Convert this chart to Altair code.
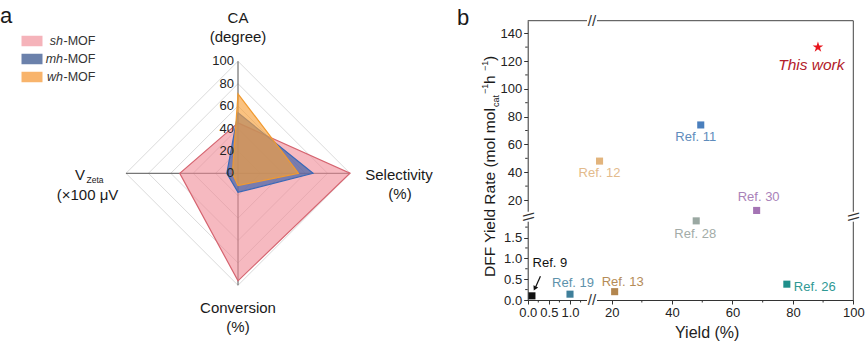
import altair as alt
import pandas as pd

# ---------------- data: panel a (radar) ----------------
axes_names = ["CA", "Selectivity", "Conversion", "VZeta"]
series_names = ["sh", "mh", "wh"]
sh_values = [45, 100, 96, 52]
mh_values = [54, 67, 17, 10]
wh_values = [71, 54, 11, 5]
grid_levels = [20, 40, 60, 80, 100]
radar_ticks = [0, 20, 40, 60, 80, 100]

# ---------------- data: panel b (scatter) ----------------
ref_names = ["Ref. 9", "Ref. 19", "Ref. 13", "Ref. 28", "Ref. 26", "Ref. 30", "Ref. 12", "Ref. 11"]
ref_yield = [0.1, 1.0, 21, 48, 78, 68, 16, 49.5]
ref_rate = [0.1, 0.14, 0.2, 1.9, 0.38, 12.5, 48, 74]
this_name = ["This work"]
this_yield = [88.3]
this_rate = [130]
x_ticks = [0, 0.5, 1.0, 20, 40, 60, 80, 100]
y_ticks = [0, 0.5, 1.0, 1.5, 20, 40, 60, 80, 100, 120, 140]
x_minor = [0.25, 0.75, 1.25, 30, 50, 70, 90]
y_minor = [0.25, 0.75, 1.25, 1.75, 30, 50, 70, 90, 110, 130]

# ---------------- styles ----------------
FONT = "Liberation Sans"
STAR = ("M0,-1L0.2245,-0.309L0.951,-0.309L0.3633,0.118L0.588,0.809L0,0.382"
        "L-0.588,0.809L-0.3633,0.118L-0.951,-0.309L-0.2245,-0.309Z")
ref_colors = ["#111111", "#3f7f9a", "#b3864e", "#9aa8a2", "#1f8f8b", "#a474b4", "#e2b47c", "#4a7fbd"]
label_colors = ["#111111", "#5d92ab", "#b58c57", "#a3aca8", "#2f9994", "#a982b9", "#e3bb8c", "#5f8cbc"]
label_off = {
    "Ref. 9": (18, -33, "center"),
    "Ref. 19": (3, -11, "center"),
    "Ref. 13": (8, -10, "center"),
    "Ref. 28": (-1, 13, "center"),
    "Ref. 26": (7, 3, "left"),
    "Ref. 30": (2, -13, "center"),
    "Ref. 12": (0, 12, "center"),
    "Ref. 11": (-5, 12, "center"),
}
poly_style = {
    "sh": dict(fill="#f08a96", fillOpacity=0.6, stroke="#d56470"),
    "mh": dict(fill="#4463a6", fillOpacity=0.7, stroke="#3868b8"),
    "wh": dict(fill="#f7a23c", fillOpacity=0.65, stroke="#f09a30"),
}
legend_colors = ["#f5b3ba", "#6b81ab", "#f8b46c"]

one = pd.DataFrame({"k": [0]})

# ---------------- radar ----------------
rx = alt.Scale(domain=[-100, 100], range=[126, 350], zero=False, nice=False)
ry = alt.Scale(domain=[-100, 100], range=[285.3, 61.3], zero=False, nice=False)

rows = []
for s, vals in zip(series_names, [sh_values, mh_values, wh_values]):
    for i, (a, v) in enumerate(zip(axes_names, vals)):
        rows.append({"series": s, "axis": a, "idx": i, "value": v})
radar_df = pd.DataFrame(rows)
grid_df = pd.DataFrame([{"level": l, "idx": i, "value": l}
                        for l in grid_levels for i in range(len(axes_names))])
spoke_df = pd.DataFrame({"axis": axes_names, "idx": list(range(len(axes_names)))})
rtick_df = pd.DataFrame({"lvl": radar_ticks})

PX = "datum.value*cos(PI/2 - datum.idx*PI/2)"
PY = "datum.value*sin(PI/2 - datum.idx*PI/2)"

grid = alt.Chart(grid_df).transform_calculate(px=PX, py=PY).mark_line(
    interpolate="linear-closed", stroke="#d6d6d6", strokeWidth=0.9
).encode(
    x=alt.X("px:Q", scale=rx, axis=None),
    y=alt.Y("py:Q", scale=ry, axis=None),
    detail="level:N",
    order="idx:Q",
)

spokes = alt.Chart(spoke_df).transform_calculate(
    z="0", ex="100*cos(PI/2 - datum.idx*PI/2)", ey="100*sin(PI/2 - datum.idx*PI/2)"
).mark_rule(color="#555555", strokeWidth=1).encode(
    x=alt.X("z:Q", scale=rx, axis=None),
    y=alt.Y("z:Q", scale=ry, axis=None),
    x2="ex:Q",
    y2="ey:Q",
)

polys = []
for s in series_names:
    st = poly_style[s]
    polys.append(
        alt.Chart(radar_df).transform_filter(alt.datum.series == s)
        .transform_calculate(px=PX, py=PY)
        .mark_line(interpolate="linear-closed", strokeWidth=1.2, **st)
        .encode(
            x=alt.X("px:Q", scale=rx, axis=None),
            y=alt.Y("py:Q", scale=ry, axis=None),
            order="idx:Q",
        )
    )

rticks = alt.Chart(rtick_df).transform_calculate(z="0").mark_text(
    align="right", baseline="middle", dx=-4, fontSize=13, color="#222222", font=FONT
).encode(
    x=alt.X("z:Q", scale=rx, axis=None),
    y=alt.Y("lvl:Q", scale=ry, axis=None),
    text=alt.Text("lvl:Q", format="d"),
)

radar = alt.layer(grid, spokes, *polys, rticks)

# ---------------- legend of panel a ----------------
leg_df = pd.DataFrame({"series": series_names, "idx": [0, 1, 2]})
ly = alt.Scale(type="point", domain=[0, 1, 2], range=[41, 77], padding=0)
leg_sw = alt.Chart(leg_df).mark_point(
    shape="M-1,-0.5H1V0.5H-1Z", filled=True, size=441, opacity=1
).encode(
    x=alt.value(32),
    y=alt.Y("idx:O", scale=ly, axis=None),
    color=alt.Color("series:N", scale=alt.Scale(domain=series_names, range=legend_colors), legend=None),
)
leg_it = alt.Chart(leg_df).mark_text(
    align="right", baseline="middle", fontStyle="italic", fontSize=12.5, color="#333333", font=FONT
).encode(x=alt.value(63), y=alt.Y("idx:O", scale=ly, axis=None), text="series:N")
leg_mof = alt.Chart(leg_df).mark_text(
    text="-MOF", align="left", baseline="middle", fontSize=12.5, color="#333333", font=FONT
).encode(x=alt.value(63.5), y=alt.Y("idx:O", scale=ly, axis=None))
legend = alt.layer(leg_sw, leg_it, leg_mof)

# ---------------- scatter ----------------
sx = alt.Scale(domain=[0, 1.52, 13.5, 100], range=[527.7, 592, 592, 853.3], zero=False, nice=False)
sy = alt.Scale(domain=[0, 2.0, 8.0, 149], range=[300, 216.7, 216.7, 20.7], zero=False, nice=False)
LBL = "datum.value < 5 ? format(datum.value, '.1f') : format(datum.value, 'd')"
ax = alt.Axis(
    orient="bottom", values=x_ticks, labelExpr=LBL, offset=-41, title="Yield (%)",
    titleX=706.7, titleY=37, titleBaseline="alphabetic", titleFontSize=16,
    titleFontWeight="normal", titleColor="#222222", labelFontSize=13, labelColor="#222222",
    labelFont=FONT, titleFont=FONT,
    tickSize=4, labelPadding=2, labelOverlap=False, labelFlush=False, grid=False,
    domainColor="#333333", tickColor="#333333",
)
ay = alt.Axis(
    orient="left", values=y_ticks, labelExpr=LBL, offset=-527.7, title=None,
    labelFontSize=13, labelColor="#222222", labelFont=FONT, tickSize=4, labelPadding=2,
    labelOverlap=False, labelFlush=False, grid=False,
    domainColor="#333333", tickColor="#333333",
)


def XQ(f):
    return alt.X(f, scale=sx, axis=ax)


def YQ(f):
    return alt.Y(f, scale=sy, axis=ay)


def XD(v):
    return alt.XDatum(v, scale=sx, axis=ax)


def YD(v):
    return alt.YDatum(v, scale=sy, axis=ay)


ref_df = pd.DataFrame({"name": ref_names, "yield": ref_yield, "rate": ref_rate})
this_df = pd.DataFrame({"name": this_name, "yield": this_yield, "rate": this_rate})

frame_top = alt.Chart(one).mark_rule(color="#444444", strokeWidth=1).encode(
    x=XD(0), x2=alt.X2Datum(100), y=YD(149))
frame_right = alt.Chart(one).mark_rule(color="#444444", strokeWidth=1).encode(
    x=XD(100), y=YD(0), y2=alt.Y2Datum(149))

xminor_df = pd.DataFrame({"v": x_minor})
yminor_df = pd.DataFrame({"v": y_minor})
xmin = alt.Chart(xminor_df).mark_rule(color="#333333", y2Offset=2.5).encode(
    x=XQ("v:Q"), y=YD(0), y2=alt.Y2Datum(0))
ymin = alt.Chart(yminor_df).mark_rule(color="#333333", x2Offset=-2.5).encode(
    y=YQ("v:Q"), x=XD(0), x2=alt.X2Datum(0))

points = alt.Chart(ref_df).mark_square(size=50, opacity=1).encode(
    x=XQ("yield:Q"), y=YQ("rate:Q"),
    color=alt.Color("name:N", scale=alt.Scale(domain=ref_names, range=ref_colors), legend=None),
)
star = alt.Chart(this_df).mark_point(shape=STAR, filled=True, size=125, color="#e8141c", opacity=1).encode(
    x=XQ("yield:Q"), y=YQ("rate:Q"))
star_lbl = alt.Chart(this_df).mark_text(
    dx=-6.6, dy=18, fontSize=15.5, fontStyle="italic", color="#b3202a", baseline="middle", font=FONT
).encode(x=XQ("yield:Q"), y=YQ("rate:Q"), text="name:N")

labels = []
for n, c in zip(ref_names, label_colors):
    dx, dy, al = label_off[n]
    labels.append(
        alt.Chart(ref_df).transform_filter(alt.datum.name == n).mark_text(
            dx=dx, dy=dy, align=al, baseline="middle", fontSize=13, color=c, font=FONT
        ).encode(x=XQ("yield:Q"), y=YQ("rate:Q"), text="name:N")
    )

arrow9 = alt.Chart(ref_df).transform_filter(alt.datum.name == "Ref. 9").mark_rule(
    color="#111111", strokeWidth=1.2, xOffset=8.5, x2Offset=3.8, yOffset=-19.5, y2Offset=-9
).encode(x=XQ("yield:Q"), x2="yield:Q", y=YQ("rate:Q"), y2="rate:Q")
arrow9_head = alt.Chart(ref_df).transform_filter(alt.datum.name == "Ref. 9").mark_point(
    shape="triangle", filled=True, size=28, color="#111111", angle=206, xOffset=3.2, yOffset=-8, opacity=1
).encode(x=XQ("yield:Q"), y=YQ("rate:Q"))

# axis breaks
brk_x = 1.52
brk_y = 2.0
mask_top = alt.Chart(one).mark_rule(color="white", strokeWidth=4, xOffset=-5, x2Offset=5).encode(
    x=XD(brk_x), x2=alt.X2Datum(brk_x), y=YD(149))
mask_bot = alt.Chart(one).mark_rule(color="white", strokeWidth=4, xOffset=-5, x2Offset=5).encode(
    x=XD(brk_x), x2=alt.X2Datum(brk_x), y=YD(0))
mask_left = alt.Chart(one).mark_rule(color="white", strokeWidth=4, yOffset=-5, y2Offset=5).encode(
    x=XD(0), y=YD(brk_y), y2=alt.Y2Datum(brk_y))
mask_right = alt.Chart(one).mark_rule(color="white", strokeWidth=4, yOffset=-5, y2Offset=5).encode(
    x=XD(100), y=YD(brk_y), y2=alt.Y2Datum(brk_y))
BRK = dict(fontSize=15, color="#333333", baseline="middle", align="center", font=FONT)
brk_top = alt.Chart(one).mark_text(text="//", **BRK).encode(x=XD(brk_x), y=YD(149))
brk_bot = alt.Chart(one).mark_text(text="//", **BRK).encode(x=XD(brk_x), y=YD(0))
brk_left = alt.Chart(one).mark_text(text="\\\\", angle=90, **BRK).encode(x=XD(0), y=YD(brk_y))
brk_right = alt.Chart(one).mark_text(text="\\\\", angle=90, **BRK).encode(x=XD(100), y=YD(brk_y))

scatter = alt.layer(
    frame_top, frame_right, xmin, ymin,
    mask_top, mask_bot, mask_left, mask_right,
    brk_top, brk_bot, brk_left, brk_right,
    points, star, star_lbl, *labels, arrow9, arrow9_head,
)


# ---------------- free text ----------------
def txt(s, x, y, **kw):
    base = dict(fontSize=15, color="#1a1a1a", baseline="middle", align="center", font=FONT)
    base.update(kw)
    return alt.Chart(one).mark_text(text=s, **base).encode(x=alt.value(x), y=alt.value(y))


decos = [
    txt("a", 0, 23, fontSize=22, align="left", baseline="alphabetic"),
    txt("b", 457, 25, fontSize=22, align="left", baseline="alphabetic"),
    txt("CA", 238, 18),
    txt("(degree)", 238, 37),
    txt("Selectivity", 399, 175),
    txt("(%)", 400, 194),
    txt("Conversion", 238, 308),
    txt("(%)", 238, 327),
    txt("V", 75, 180, align="left", baseline="alphabetic"),
    txt("Zeta", 86.5, 183, fontSize=8.5, align="left", baseline="alphabetic"),
    txt("(×100 μV", 87.5, 195),
    # y-axis title of panel b, composed of pieces (rotated)
    txt("DFF Yield Rate (mol mol", 495, 277, fontSize=15.5, angle=270, align="left", baseline="alphabetic"),
    txt("cat", 498.5, 107, fontSize=9, angle=270, align="left", baseline="alphabetic"),
    txt("\u22121", 488, 94, fontSize=9, angle=270, align="left", baseline="alphabetic"),
    txt(" h", 495, 84, fontSize=15.5, angle=270, align="left", baseline="alphabetic"),
    txt("\u22121", 488, 71, fontSize=9, angle=270, align="left", baseline="alphabetic"),
    txt(")", 495, 61, fontSize=15.5, angle=270, align="left", baseline="alphabetic"),
]

chart = alt.layer(scatter, radar, legend, *decos).resolve_scale(
    x="independent", y="independent", color="independent"
).properties(
    width=865, height=341, padding=0, autosize=alt.AutoSizeParams(type="none")
).configure(font=FONT).configure_view(stroke=None)

chart.save("out.html", embed_options={"renderer": "svg", "actions": False})
